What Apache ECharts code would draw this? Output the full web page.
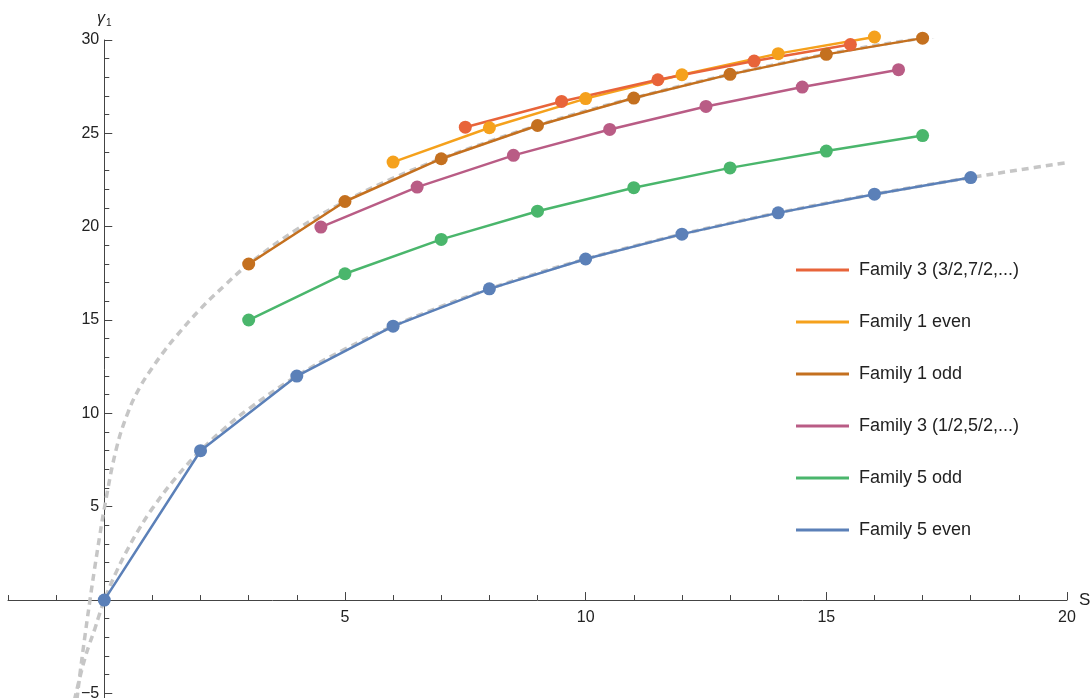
<!DOCTYPE html>
<html>
<head>
<meta charset="utf-8">
<script src="https://cdn.jsdelivr.net/npm/echarts@6/dist/echarts.min.js"></script>
<style>
html,body{margin:0;padding:0;background:#fff;}
#chart{width:1092px;height:698px;}
</style>
</head>
<body>
<div id="chart"></div>
<script>
// ---- data ----
const family3bName = 'Family 3 (3/2,7/2,...)';
const family3bS = [7.5, 9.5, 11.5, 13.5, 15.5];
const family3bG = [25.33, 26.71, 27.87, 28.87, 29.76];

const family1EvenName = 'Family 1 even';
const family1EvenS = [6, 8, 10, 12, 14, 16];
const family1EvenG = [23.46, 25.3, 26.86, 28.14, 29.27, 30.16];

const family1OddName = 'Family 1 odd';
const family1OddS = [3, 5, 7, 9, 11, 13, 15, 17];
const family1OddG = [18.0, 21.35, 23.64, 25.42, 26.89, 28.16, 29.23, 30.1];

const family3aName = 'Family 3 (1/2,5/2,...)';
const family3aS = [4.5, 6.5, 8.5, 10.5, 12.5, 14.5, 16.5];
const family3aG = [19.98, 22.12, 23.82, 25.21, 26.44, 27.48, 28.41];

const family5OddName = 'Family 5 odd';
const family5OddS = [3, 5, 7, 9, 11, 13, 15, 17];
const family5OddG = [15.0, 17.48, 19.32, 20.83, 22.09, 23.15, 24.05, 24.88];

const family5EvenName = 'Family 5 even';
const family5EvenS = [0, 2, 4, 6, 8, 10, 12, 14, 16, 18];
const family5EvenG = [0, 8, 12, 14.67, 16.67, 18.27, 19.6, 20.74, 21.74, 22.63];

// grey dashed reference curves
const upperCurveS = [-0.65, -0.6, -0.5, -0.4, -0.3, -0.2, -0.1, 0, 0.25, 0.5, 0.75, 1, 1.25, 1.5, 2, 2.5, 3, 4, 5, 6, 7, 8, 9, 10, 11, 12, 13, 14, 15, 16, 17, 17.5];
const upperCurveG = [-6.6, -5.95, -3.85, -1.9, -0.05, 1.7, 3.35, 4.9, 8.1, 10.1, 11.45, 12.45, 13.35, 14.15, 15.6, 16.85, 18.0, 19.85, 21.35, 22.6, 23.64, 24.57, 25.42, 26.2, 26.89, 27.55, 28.16, 28.72, 29.23, 29.7, 30.1, 30.3];
const lowerCurveS = [-0.62, -0.6, -0.55, -0.5, -0.4, -0.3, -0.2, -0.1, 0, 0.25, 0.5, 0.75, 1, 1.5, 2, 2.5, 3, 4, 5, 6, 7, 8, 9, 10, 11, 12, 13, 14, 15, 16, 17, 18, 19, 20];
const lowerCurveG = [-5.37, -5.14, -4.59, -4.07, -3.1, -2.3, -1.57, -0.76, 0, 1.51, 2.79, 3.92, 4.91, 6.6, 8.0, 9.2, 10.24, 12.0, 13.44, 14.67, 15.73, 16.67, 17.51, 18.27, 18.96, 19.6, 20.19, 20.74, 21.26, 21.74, 22.2, 22.63, 23.04, 23.43];

// ticks
const xTickLabels = [5, 10, 15, 20];
const xMinorTicks = [-2, -1, 1, 2, 3, 4, 6, 7, 8, 9, 11, 12, 13, 14, 16, 17, 18, 19];
const yTickLabels = [-5, 5, 10, 15, 20, 25, 30];
const yMajorTicks = [-5, 0, 5, 10, 15, 20, 25, 30];
const yMinorTicks = [-4, -3, -2, -1, 1, 2, 3, 4, 6, 7, 8, 9, 11, 12, 13, 14, 16, 17, 18, 19, 21, 22, 23, 24, 26, 27, 28, 29];

const X_MIN = -2, X_MAX = 20, Y_MIN = -5.3, Y_MAX = 30;

const colors = {
  f3b: '#E8643A',
  f1e: '#F5A11C',
  f1o: '#C4701F',
  f3a: '#B95C85',
  f5o: '#4AB66C',
  f5e: '#5B80B8'
};

const FONT = '"Liberation Sans", Arial, sans-serif';
const AXIS_COLOR = '#444';
const TEXT_COLOR = '#222';

// plot frame (pixels)
const PL = 8, PT = 40, PW = 1059, PH = 659;
const zeroX = PL + (0 - X_MIN) / (X_MAX - X_MIN) * PW;
const zeroY = PT + (Y_MAX - 0) / (Y_MAX - Y_MIN) * PH;

function pairs(xs, ys) { return xs.map((x, i) => [x, ys[i]]); }
function minusFmt(v) { return v < 0 ? '\u2212' + Math.abs(v) : String(v); }

function famSeries(name, xs, ys, color) {
  return {
    name: name,
    type: 'line',
    data: pairs(xs, ys),
    symbol: 'circle',
    symbolSize: 13,
    showSymbol: true,
    clip: false,
    xAxisIndex: 0, yAxisIndex: 0,
    lineStyle: { color: color, width: 2.5 },
    itemStyle: { color: color },
    emphasis: { disabled: true },
    z: 3
  };
}
function dashSeries(name, xs, ys) {
  return {
    name: name,
    type: 'line',
    data: pairs(xs, ys),
    showSymbol: false,
    smooth: 0.4,
    clip: true,
    xAxisIndex: 0, yAxisIndex: 0,
    lineStyle: { color: '#c6c6c6', width: 3.5, type: [7, 5] },
    emphasis: { disabled: true },
    silent: true,
    z: 1
  };
}

const hiddenAxis = (grid, min, max) => ({ type: 'value', gridIndex: grid, min: min, max: max, show: false });

const chart = echarts.init(document.getElementById('chart'), null, { renderer: 'canvas' });
chart.setOption({
  animation: false,
  backgroundColor: '#fff',
  textStyle: { fontFamily: FONT },
  grid: [
    { left: PL, top: PT, width: PW, height: PH, containLabel: false, outerBoundsMode: 'none' },
    { left: PL, top: PT, width: PW, height: zeroY - PT, containLabel: false, outerBoundsMode: 'none' },
    { left: zeroX, top: PT, width: PL + PW - zeroX, height: PH, containLabel: false, outerBoundsMode: 'none' }
  ],
  legend: {
    data: [family3bName, family1EvenName, family1OddName, family3aName, family5OddName, family5EvenName],
    orient: 'vertical',
    left: 791,
    top: 255,
    icon: 'rect',
    itemWidth: 53,
    itemHeight: 3,
    itemGap: 32,
    selectedMode: false,
    textStyle: { fontFamily: FONT, fontSize: 18, color: TEXT_COLOR, lineHeight: 20, padding: [0, 0, 0, 5] }
  },
  xAxis: [
    hiddenAxis(0, X_MIN, X_MAX),
    {
      type: 'value', gridIndex: 1, min: X_MIN, max: X_MAX, position: 'bottom',
      axisLine: { show: true, onZero: false, lineStyle: { color: AXIS_COLOR, width: 1 } },
      axisTick: { show: true, inside: true, length: 5, customValues: xMinorTicks, lineStyle: { color: AXIS_COLOR } },
      axisLabel: { customValues: xTickLabels, margin: 10, fontSize: 16, color: TEXT_COLOR, fontFamily: FONT, formatter: minusFmt },
      splitLine: { show: false },
      name: 'S', nameLocation: 'end', nameGap: 12,
      nameTextStyle: { fontSize: 17, color: TEXT_COLOR, fontFamily: FONT }
    },
    {
      type: 'value', gridIndex: 1, min: X_MIN, max: X_MAX, position: 'bottom',
      axisLine: { show: false, onZero: false },
      axisTick: { show: true, inside: true, length: 8, customValues: xTickLabels, lineStyle: { color: AXIS_COLOR } },
      axisLabel: { show: false },
      splitLine: { show: false }
    },
    hiddenAxis(2, 0, X_MAX)
  ],
  yAxis: [
    hiddenAxis(0, Y_MIN, Y_MAX),
    hiddenAxis(1, 0, Y_MAX),
    {
      type: 'value', gridIndex: 2, min: Y_MIN, max: Y_MAX, position: 'left',
      axisLine: { show: true, onZero: false, lineStyle: { color: AXIS_COLOR, width: 1 } },
      axisTick: { show: true, inside: true, length: 5, customValues: yMinorTicks, lineStyle: { color: AXIS_COLOR } },
      axisLabel: { customValues: yTickLabels, margin: 5, fontSize: 16, color: TEXT_COLOR, fontFamily: FONT, formatter: minusFmt },
      splitLine: { show: false },
      name: '{g|\u03B3}{s|1}', nameLocation: 'end', nameGap: 12,
      nameTextStyle: {
        fontFamily: FONT, color: TEXT_COLOR,
        rich: {
          g: { fontSize: 16, fontStyle: 'italic', fontFamily: FONT, color: TEXT_COLOR, lineHeight: 18 },
          s: { fontSize: 10, fontFamily: FONT, color: TEXT_COLOR, lineHeight: 18, verticalAlign: 'bottom', padding: [5, 0, 0, 1] }
        }
      }
    },
    {
      type: 'value', gridIndex: 2, min: Y_MIN, max: Y_MAX, position: 'left',
      axisLine: { show: false, onZero: false },
      axisTick: { show: true, inside: true, length: 8, customValues: yMajorTicks, lineStyle: { color: AXIS_COLOR } },
      axisLabel: { show: false },
      splitLine: { show: false }
    }
  ],
  series: [
    dashSeries('upperCurve', upperCurveS, upperCurveG),
    dashSeries('lowerCurve', lowerCurveS, lowerCurveG),
    famSeries(family5EvenName, family5EvenS, family5EvenG, colors.f5e),
    famSeries(family5OddName, family5OddS, family5OddG, colors.f5o),
    famSeries(family3aName, family3aS, family3aG, colors.f3a),
    famSeries(family1OddName, family1OddS, family1OddG, colors.f1o),
    famSeries(family1EvenName, family1EvenS, family1EvenG, colors.f1e),
    famSeries(family3bName, family3bS, family3bG, colors.f3b)
  ]
});
</script>
</body>
</html>
